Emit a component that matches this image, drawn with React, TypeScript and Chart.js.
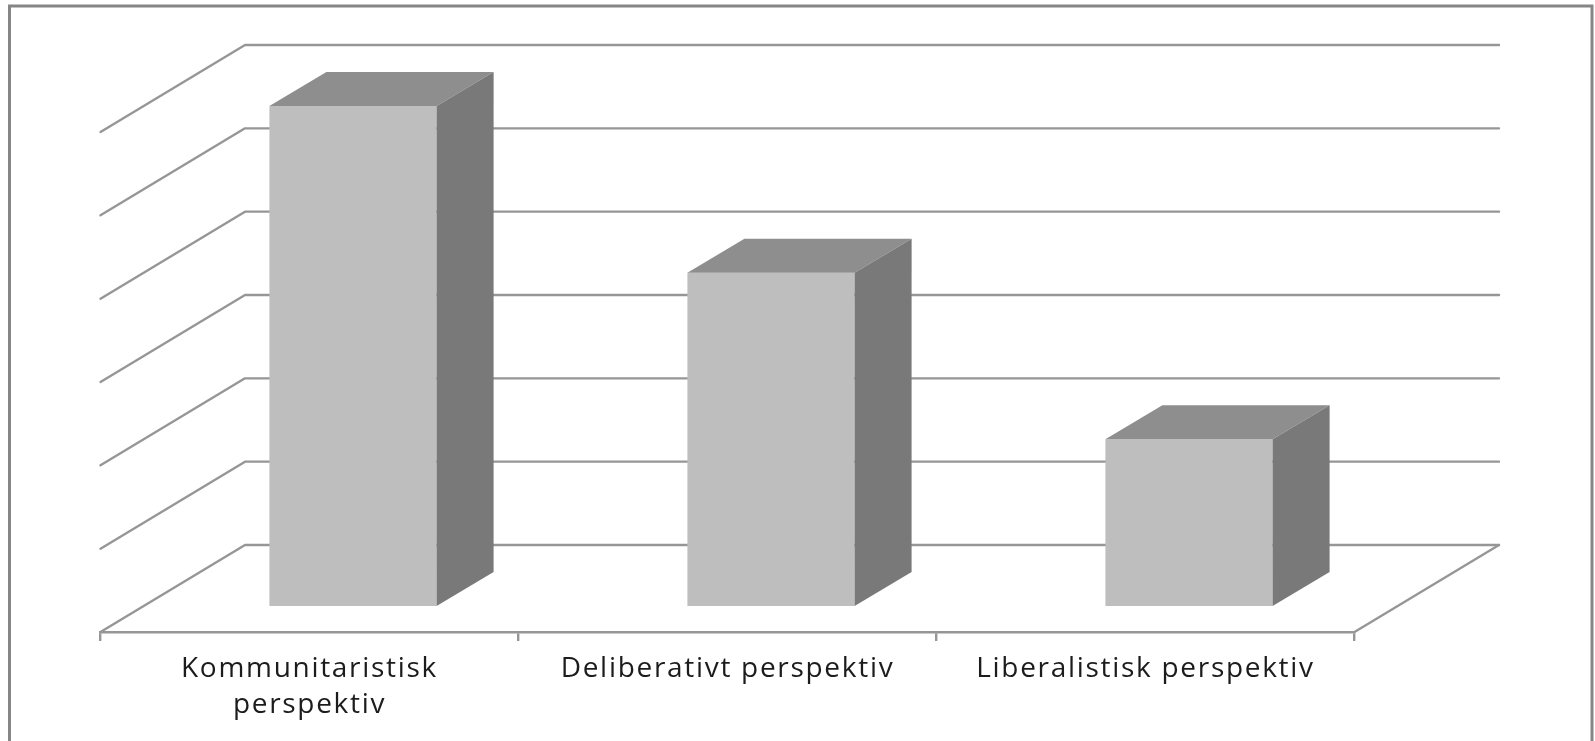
import React, { useEffect, useRef } from "react";
import { Chart, registerables } from "chart.js";

Chart.register(...registerables);

const categories: (string | string[])[] = [
  ["Kommunitaristisk", "perspektiv"],
  "Deliberativt perspektiv",
  "Liberalistisk perspektiv",
];
const seriesValues = [6, 4, 2];
const axisMin = 0;
const axisMax = 6;

// Oblique projection of the 3D box, in pixels
const WALL = { dx: 144.5, dy: -87 };
const BAR_OFFSET = { dx: 43.5, dy: -26 };
const BAR_DEPTH = { dx: 57, dy: -34 };

const COLORS = {
  front: "#bebebe",
  top: "#8e8e8e",
  side: "#797979",
  grid: "#969696",
  frame: "#868686",
  text: "#1c1c1c",
};

const poly = (ctx: CanvasRenderingContext2D, pts: number[][], fill: string) => {
  ctx.beginPath();
  pts.forEach(([x, y], i) => (i ? ctx.lineTo(x, y) : ctx.moveTo(x, y)));
  ctx.closePath();
  ctx.fillStyle = fill;
  ctx.fill();
};

const box3d = {
  id: "box3d",
  beforeDraw(chart: any) {
    const { ctx } = chart;
    ctx.save();
    ctx.strokeStyle = COLORS.frame;
    ctx.lineWidth = 3;
    ctx.beginPath();
    ctx.moveTo(9.5, 760);
    ctx.lineTo(9.5, 6);
    ctx.lineTo(1592, 6);
    ctx.lineTo(1592, 760);
    ctx.stroke();
    ctx.restore();
    ctx.letterSpacing = "1.7px";
  },
  beforeDatasetsDraw(chart: any) {
    const { ctx, chartArea, scales } = chart;
    const { left, right } = chartArea;
    ctx.save();
    ctx.strokeStyle = COLORS.grid;
    ctx.lineWidth = 2.4;
    ctx.lineCap = "round";
    ctx.lineJoin = "round";
    scales.y.ticks.forEach((t: any) => {
      const y = scales.y.getPixelForValue(t.value);
      ctx.beginPath();
      ctx.moveTo(left, y);
      ctx.lineTo(left + WALL.dx, y + WALL.dy);
      ctx.lineTo(right + WALL.dx, y + WALL.dy);
      ctx.stroke();
    });
    const y0 = scales.y.getPixelForValue(axisMin);
    ctx.beginPath();
    ctx.moveTo(right, y0);
    ctx.lineTo(right + WALL.dx, y0 + WALL.dy);
    ctx.stroke();
    ctx.restore();
  },
  beforeDatasetDraw(chart: any) {
    chart.ctx.save();
    chart.ctx.translate(BAR_OFFSET.dx, BAR_OFFSET.dy);
  },
  afterDatasetDraw(chart: any, args: any) {
    const { ctx } = chart;
    ctx.restore();
    chart.getDatasetMeta(args.index).data.forEach((el: any) => {
      const { x, y, base, width } = el.getProps(["x", "y", "base", "width"], true);
      const l = x - width / 2 + BAR_OFFSET.dx;
      const r = x + width / 2 + BAR_OFFSET.dx;
      const t = y + BAR_OFFSET.dy;
      const b = base + BAR_OFFSET.dy;
      const { dx, dy } = BAR_DEPTH;
      poly(ctx, [[l, t], [r, t], [r + dx, t + dy], [l + dx, t + dy]], COLORS.top);
      poly(ctx, [[r, t], [r + dx, t + dy], [r + dx, b + dy], [r, b]], COLORS.side);
    });
  },
};

export default function App() {
  const ref = useRef<HTMLCanvasElement>(null);
  useEffect(() => {
    const chart = new Chart(ref.current!, {
      type: "bar",
      data: {
        labels: categories as any,
        datasets: [
          {
            data: seriesValues,
            backgroundColor: COLORS.front,
            borderWidth: 0,
            barPercentage: 0.4,
            categoryPercentage: 1,
            clip: false,
          } as any,
        ],
      },
      plugins: [box3d],
      options: {
        animation: false,
        responsive: false,
        devicePixelRatio: 1,
        layout: { padding: { left: 100.5, right: 240.5, top: 132, bottom: 0 } },
        plugins: { legend: { display: false }, tooltip: { enabled: false } },
        scales: {
          y: {
            display: false,
            min: axisMin,
            max: axisMax,
            ticks: { stepSize: 1 },
            grid: { display: false },
          },
          x: {
            afterFit: (scale: any) => {
              scale.height = 109;
            },
            grid: {
              drawOnChartArea: false,
              drawTicks: true,
              tickLength: 9,
              color: COLORS.grid,
              lineWidth: 2.4,
            },
            border: { display: true, color: COLORS.grid, width: 2.4 },
            ticks: {
              autoSkip: false,
              maxRotation: 0,
              minRotation: 0,
              padding: 10,
              color: COLORS.text,
              font: { family: "'Open Sans'", size: 28, lineHeight: 1.28 },
            },
          },
        },
      },
    });
    return () => chart.destroy();
  }, []);
  return (
    <div style={{ position: "fixed", left: 0, top: 0, width: 1595, height: 741, background: "#fff", overflow: "hidden" }}>
      <canvas ref={ref} width={1595} height={741} style={{ display: "block", width: 1595, height: 741, filter: "blur(0.7px)" }} />
    </div>
  );
}
